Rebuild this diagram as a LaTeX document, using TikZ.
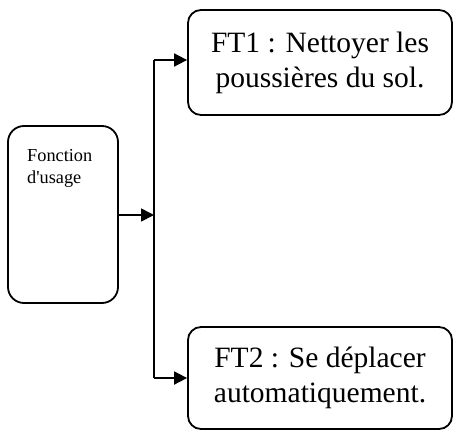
\documentclass[tikz,border=0pt]{standalone}
\usepackage{fontspec}
\setmainfont{Liberation Serif}
\newfontfamily\rawserif{Liberation Serif}[Ligatures=ResetAll]
\usetikzlibrary{arrows.meta}
\begin{document}
\begin{tikzpicture}[x=1pt,y=-1pt,
  box/.style={draw, line width=1.8pt, rounded corners=13pt, inner sep=0pt},
  bigtext/.style={font=\fontsize{29.5}{35}\selectfont, align=center},
  conn/.style={line width=1.8pt},
  arr/.style={conn, -{Triangle[length=13pt,width=13pt]}}]
\useasboundingbox (0,0) rectangle (455,431);
% left box
\node[box, rounded corners=16pt, minimum width=110pt, minimum height=177pt] (fu) at (63,214.5) {};
\node[anchor=north west, inner sep=0pt, align=left, font=\rawserif\fontsize{18.3}{22}\selectfont] (futext) at (27,149.5) {Fonction\\d'usage};
% right boxes
\node[box, bigtext, minimum width=264pt, minimum height=105pt] (ft1) at (320,62.5) {FT1 : Nettoyer les\\poussières du sol.};
\node[box, bigtext, minimum width=264pt, minimum height=102pt] (ft2) at (320,378) {\raisebox{4pt}{FT2 : Se déplacer}\\\raisebox{4pt}{automatiquement.}};
% connectors
\coordinate (j) at (154,215);
\coordinate (jt) at (154,60);
\coordinate (jb) at (154,378);
\draw[arr] (fu.east |- j) -- (j);
\draw[conn] (jt) -- (jb);
\draw[arr] (jt) -- (ft1.west |- jt);
\draw[arr] (jb) -- (ft2.west |- jb);
\end{tikzpicture}
\end{document}
